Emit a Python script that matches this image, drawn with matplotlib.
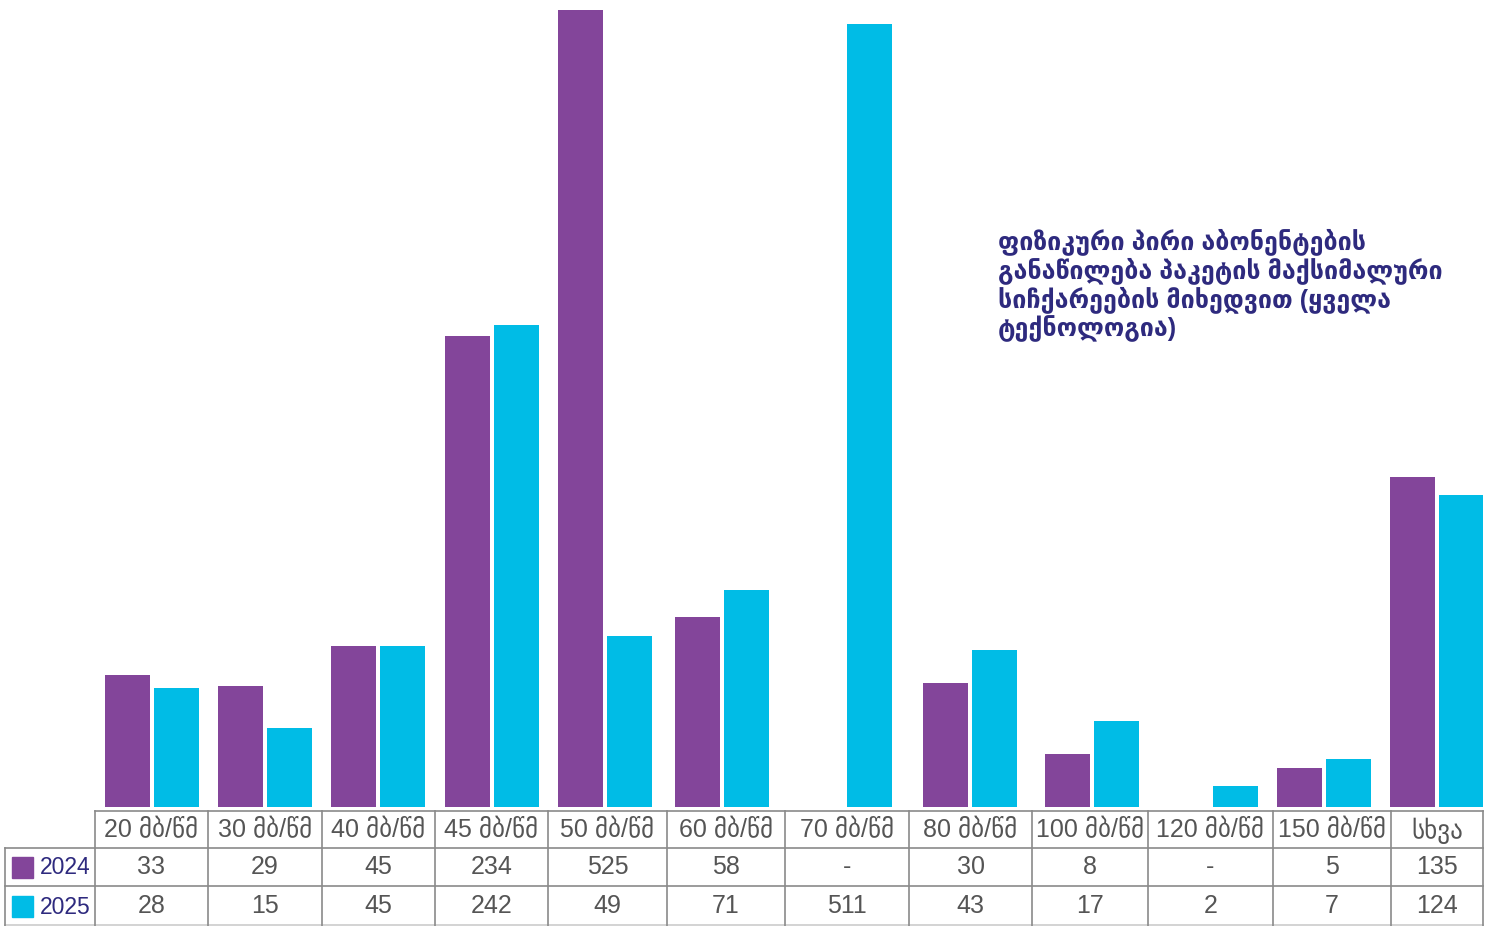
import matplotlib
matplotlib.use("Agg")
import matplotlib.pyplot as plt
from matplotlib.patches import Rectangle

categories = ["20 მბ/წმ", "30 მბ/წმ", "40 მბ/წმ", "45 მბ/წმ", "50 მბ/წმ", "60 მბ/წმ",
              "70 მბ/წმ", "80 მბ/წმ", "100 მბ/წმ", "120 მბ/წმ", "150 მბ/წმ", "სხვა"]
years = ["2024", "2025"]
values_2024 = [33, 29, 45, 234, 525, 58, None, 30, 8, None, 5, 135]
values_2025 = [28, 15, 45, 242, 49, 71, 511, 43, 17, 2, 7, 124]
title_lines = ["ფიზიკური პირი აბონენტების",
               "განაწილება პაკეტის მაქსიმალური",
               "სიჩქარეების მიხედვით (ყველა",
               "ტექნოლოგია)"]

PURPLE = "#83459a"
CYAN = "#00bce6"
NAVY = "#2e2a7e"
GRID = "#8a8a8a"
TXT = "#555555"

W, H = 1494, 926
col_edges = [95, 208, 322, 435, 548, 667, 785, 909, 1032, 1148, 1273, 1391, 1483]
group_x = [152, 265, 378, 492, 605, 722.5, 845, 970.5, 1092.5, 1211, 1324, 1437]

fig = plt.figure(figsize=(W / 100, H / 100), dpi=100)
fam = ["Liberation Sans", "DejaVu Sans"]

# bar axes, x in pixel-like units so bars line up with table columns
base_y = 807
top_y = 10
ax = fig.add_axes([col_edges[0] / W, (H - base_y) / H,
                   (col_edges[-1] - col_edges[0]) / W, (base_y - top_y) / H])
ax.set_xlim(col_edges[0], col_edges[-1])
p = 0.65
ax.set_yscale("function", functions=(lambda v: abs(v) ** p, lambda v: abs(v) ** (1 / p)))
ax.set_ylim(0, 525)
ax.axis("off")

bw, off = 45, 24.5
for i in range(len(categories)):
    c = group_x[i]
    if values_2024[i] is not None:
        ax.bar(c - off, values_2024[i], width=bw, color=PURPLE)
    if values_2025[i] is not None:
        ax.bar(c + off, values_2025[i], width=bw, color=CYAN)

# table overlay in pixel coordinates
tab = fig.add_axes([0, 0, 1, 1], zorder=-1)
tab.set_xlim(0, W)
tab.set_ylim(H, 0)
tab.axis("off")

r0, r1, r2, r3 = 811, 848, 886, 926
lw = 1.2
tab.plot([col_edges[0], col_edges[-1]], [r0, r0], color=GRID, lw=lw)
tab.plot([5, col_edges[-1]], [r1, r1], color=GRID, lw=lw)
tab.plot([5, col_edges[-1]], [r2, r2], color=GRID, lw=lw)
tab.plot([5, col_edges[-1]], [r3 - 1, r3 - 1], color="#cccccc", lw=lw)
tab.plot([5, 5], [r1, r3], color=GRID, lw=lw)
for x in col_edges:
    tab.plot([x, x], [r0, r3], color=GRID, lw=lw)

for i, cat in enumerate(categories):
    c = (col_edges[i] + col_edges[i + 1]) / 2
    tab.text(c, (r0 + r1) / 2 + 1, cat, ha="center", va="center", fontsize=18,
             color=TXT, family=fam)
    for vals, (ya, yb) in ((values_2024, (r1, r2)), (values_2025, (r2, r3))):
        v = vals[i]
        tab.text(c, (ya + yb) / 2, "-" if v is None else str(v), ha="center",
                 va="center", fontsize=18, color=TXT, family=fam)

for yr, col, (ya, yb) in ((years[0], PURPLE, (r1, r2)), (years[1], CYAN, (r2, r3))):
    ym = (ya + yb) / 2
    tab.add_patch(Rectangle((12, ym - 10.5), 21, 21, color=col))
    tab.text(40, ym + 1, yr, ha="left", va="center", fontsize=16.5, color=NAVY, family=fam)

for k, ln in enumerate(title_lines):
    fig.text(998 / W, 1 - (242 + k * 29) / H, ln, ha="left", va="center",
             fontsize=18, color=NAVY, family=fam, fontweight="bold")

fig.savefig("out.png", dpi=100)
